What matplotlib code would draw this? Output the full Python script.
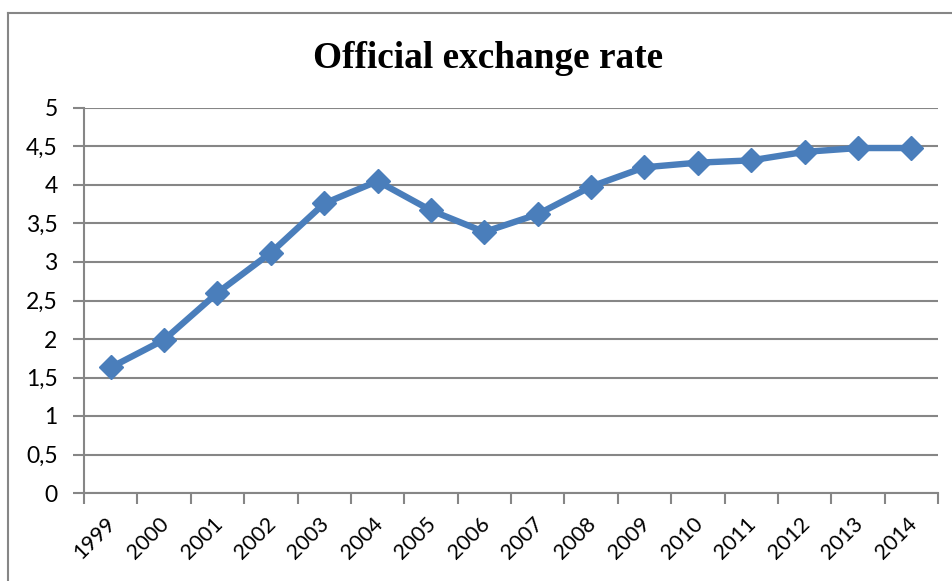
import matplotlib
matplotlib.use("Agg")
import matplotlib.pyplot as plt
import matplotlib.transforms as mtransforms
from matplotlib.lines import Line2D
import numpy as np

# Data
years = ["1999", "2000", "2001", "2002", "2003", "2004", "2005", "2006",
         "2007", "2008", "2009", "2010", "2011", "2012", "2013", "2014"]
rate = [1.63, 1.99, 2.60, 3.12, 3.76, 4.05, 3.67, 3.39,
        3.62, 3.98, 4.23, 4.29, 4.32, 4.43, 4.48, 4.48]
yticks = [0, 0.5, 1, 1.5, 2, 2.5, 3, 3.5, 4, 4.5, 5]

W, H = 952, 581
fig = plt.figure(figsize=(W / 100, H / 100), dpi=100)
ax = fig.add_axes([84 / W, (H - 493) / H, (938 - 84) / W, (493 - 108) / H])

grid_c = "#868686"
line_c = "#4a7ebb"

x = np.arange(len(years))
ax.plot(x, rate, color=line_c, lw=4.6, marker="D", ms=12.5,
        markerfacecolor=line_c, markeredgecolor=line_c, zorder=3)

ax.set_xlim(-0.5, len(years) - 0.5)
ax.set_ylim(0, 5)

# y axis
ax.set_yticks(yticks)
ax.set_yticklabels([("%g" % v).replace(".", ",") for v in yticks],
                   fontsize=16.5, family="Lato")
ax.yaxis.grid(True, color=grid_c, lw=1.5)
ax.set_axisbelow(True)
ax.tick_params(axis="y", length=8, width=1.5, color=grid_c, pad=11,
               labelcolor="black")

# x axis: ticks at category boundaries, labels at centers
ax.set_xticks(np.arange(-0.5, len(years)))
ax.set_xticklabels([])
ax.set_xticks(x, minor=True)
ax.set_xticklabels(years, minor=True, rotation=45, ha="right",
                   rotation_mode="anchor", fontsize=15.5, family="Lato")
ax.tick_params(axis="x", which="major", length=8, width=1.5, color=grid_c)
ax.tick_params(axis="x", which="minor", length=0, pad=15)
offset = mtransforms.ScaledTranslation(-5 / 100, 0, fig.dpi_scale_trans)
for lab in ax.get_xticklabels(minor=True):
    lab.set_transform(lab.get_transform() + offset)

for s in ["top", "right"]:
    ax.spines[s].set_visible(False)
for s in ["left", "bottom"]:
    ax.spines[s].set_color(grid_c)
    ax.spines[s].set_linewidth(1.5)

# Title
fig.text(488 / W, 1 - 58 / H, "Official exchange rate", ha="center", va="center",
         fontsize=26.8, fontweight="bold", family="Liberation Serif")

# Chart border
fig.add_artist(Line2D([8 / W, 1.0], [1 - 13 / H, 1 - 13 / H], transform=fig.transFigure,
                      color=grid_c, lw=1.5))
fig.add_artist(Line2D([8 / W, 8 / W], [1 - 13 / H, 0], transform=fig.transFigure,
                      color=grid_c, lw=1.5))

fig.savefig("out.png", dpi=100)
